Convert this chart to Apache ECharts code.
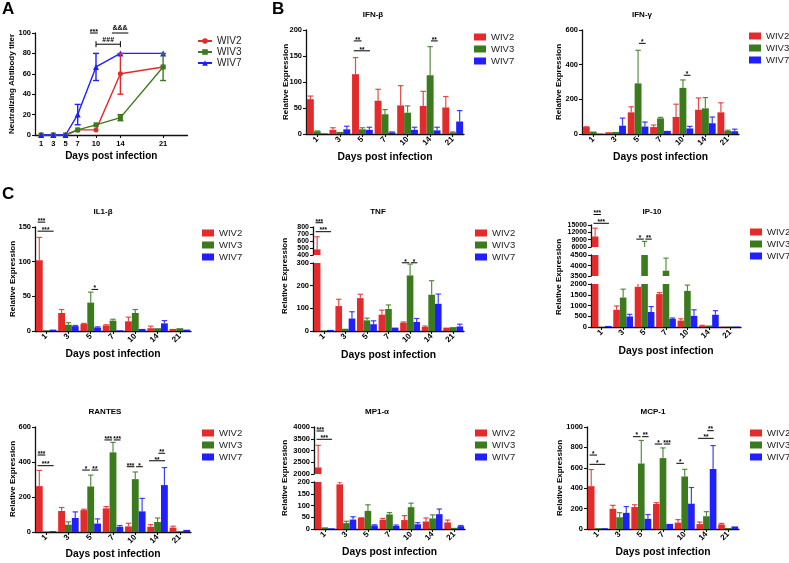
<!DOCTYPE html>
<html><head><meta charset="utf-8">
<script src="https://cdn.jsdelivr.net/npm/echarts@6/dist/echarts.min.js"></script>
<style>html,body{margin:0;padding:0;background:#fff}#c{width:789px;height:563px}</style>
</head><body><div id="c"></div>
<script>
// ---------------- DATA ----------------
const days = ['1','3','5','7','10','14','21'];
const dayNums = [1,3,5,7,10,14,21];
const groups = ['WIV2','WIV3','WIV7'];

// Panel A: neutralizing antibody titer
const nabWIV2 = [0,0,0,5,5,60,66.7];
const nabWIV2Err = [0,0,0,0,0,20,0];
const nabWIV3 = [0,0,0,5,10,17,66.7];
const nabWIV3Err = [0,0,0,0,0,3,13.3];
const nabWIV7 = [0,0,0,20,66.7,80,80];
const nabWIV7Err = [0,0,0,10,13.3,0,0];
const nabSig = [[9.0,10.3,100,'***',0],[12.6,15.3,100,'&&&',0],[10,14,89,'###',1]];

// IFN-beta
const ifnbWIV2 = [67,8,115,64,55,54,51];
const ifnbWIV2Err = [6,4,32,22,38,28,21];
const ifnbWIV3 = [5,4,9,38,41,113,3];
const ifnbWIV3Err = [1,0,3,9,13,55,1];
const ifnbWIV7 = [1,9,8,3,8,7,24];
const ifnbWIV7Err = [0,6,5,1,5,6,21];
const ifnbSig = [[0,2,0,1,179,'**'],[0,2,0,2,160,'**'],[0,5,1,2,179,'**']];

// IFN-gamma
const ifngWIV2 = [40,10,125,40,98,140,125];
const ifngWIV2Err = [2,0,32,12,74,68,55];
const ifngWIV3 = [14,12,292,90,266,148,18];
const ifngWIV3Err = [0,0,191,6,46,62,4];
const ifngWIV7 = [2,48,43,18,32,62,16];
const ifngWIV7Err = [0,44,26,0,12,36,12];
const ifngSig = [[0,2,1,2,523,'*'],[0,4,1,2,339,'*']];

// IL1-beta
const il1bWIV2 = [102,26,10,8,14,4,3];
const il1bWIV2Err = [33,5,1,1,6,3,0];
const il1bWIV3 = [1,9,41,15,26,4,4];
const il1bWIV3Err = [0,3,15,2,5,0,0];
const il1bWIV7 = [2,7,5,1,3,11,2];
const il1bWIV7Err = [0,1,1,0,0,4,0];
const il1bSig = [[0,0,0,1,157,'***'],[0,0,0,2,144,'***'],[0,2,1,2,60,'*']];

// TNF
const tnfWIV2 = [480,110,145,72,37,18,15];
const tnfWIV2Err = [180,30,17,20,3,4,0];
const tnfWIV3 = [2,10,47,97,245,160,17];
const tnfWIV3Err = [0,0,10,18,50,62,0];
const tnfWIV7 = [5,55,30,15,40,120,20];
const tnfWIV7Err = [0,30,15,0,15,43,10];
const tnfSig = [[0,0,0,1,861,'***'],[0,0,0,2,733,'***'],[1,4,0,1,301,'*'],[1,4,1,2,301,'*']];

// IP-10
const ip10WIV2 = [10300,800,1870,1530,300,60,20];
const ip10WIV2Err = [3400,180,180,70,80,20,0];
const ip10WIV3 = [10,1370,5000,3750,1680,70,20];
const ip10WIV3Err = [0,390,3300,600,270,0,0];
const ip10WIV7 = [50,490,700,380,520,570,20];
const ip10WIV7Err = [0,100,250,40,280,190,0];
const ip10Sig = [[0,0,0,1,19300,'***'],[0,0,0,2,15700,'***'],[0,2,0,1,9230,'*'],[0,2,1,2,9230,'**']];

// RANTES
const rantesWIV2 = [262,120,125,135,32,30,25];
const rantesWIV2Err = [90,20,5,10,18,12,8];
const rantesWIV3 = [3,42,260,455,302,57,5];
const rantesWIV3Err = [0,16,65,57,41,23,0];
const rantesWIV7 = [5,80,48,30,118,268,12];
const rantesWIV7Err = [0,35,27,7,74,100,0];
const rantesSig = [[0,0,0,1,440,'***'],[0,0,0,2,379,'***'],[0,2,0,1,354,'*'],[0,2,1,2,354,'**'],
  [0,3,0,1,526,'***'],[0,3,1,2,526,'***'],[0,4,0,1,373,'***'],[0,4,1,2,373,'*'],[0,5,1,2,450,'**'],[0,5,0,2,407,'**']];

// MP1-alpha
const mp1WIV2 = [2280,190,47,40,38,32,28];
const mp1WIV2Err = [940,10,1,5,19,15,10];
const mp1WIV3 = [7,25,77,62,93,45,5];
const mp1WIV3Err = [0,8,26,8,17,15,0];
const mp1WIV7 = [3,40,15,13,20,63,12];
const mp1WIV7Err = [0,12,3,4,7,22,3];
const mp1Sig = [[0,0,0,1,3830,'***'],[0,0,0,2,3477,'***']];

// MCP-1
const mcp1WIV2 = [420,198,215,245,62,48,45];
const mcp1WIV2Err = [163,34,23,13,30,20,10];
const mcp1WIV3 = [8,115,642,695,515,125,10];
const mcp1WIV3Err = [0,45,226,100,70,45,0];
const mcp1WIV7 = [8,158,100,50,248,588,25];
const mcp1WIV7Err = [0,62,42,0,159,230,0];
const mcp1Sig = [[0,0,0,1,725,'*'],[0,0,0,2,634,'*'],[0,2,0,1,905,'*'],[0,2,1,2,905,'**'],
  [0,3,0,1,833,'*'],[0,3,1,2,833,'***'],[0,4,0,1,644,'*'],[0,5,1,2,964,'**'],[0,5,0,2,889,'**']];

// ---------------- STYLE / LAYOUT ----------------
const FONT = "'Liberation Sans', Arial, sans-serif";
const COLORS = ['#e32b2b', '#3c7a1e', '#1f1fff'];
const GAP = 0.08;
const AXC = '#111';

const PANELS = [
 {title:'IFN-β', vals:[ifnbWIV2,ifnbWIV3,ifnbWIV7], errs:[ifnbWIV2Err,ifnbWIV3Err,ifnbWIV7Err], sig:ifnbSig,
  left:306, width:158, segs:[{top:30,bottom:134,min:0,max:200,interval:50}], titlePos:[373,15], legendPos:[474,31.5], yNamePos:[286,82], nameGap:18},
 {title:'IFN-γ', vals:[ifngWIV2,ifngWIV3,ifngWIV7], errs:[ifngWIV2Err,ifngWIV3Err,ifngWIV7Err], sig:ifngSig,
  left:582, width:157, segs:[{top:30,bottom:134,min:0,max:600,interval:200}], titlePos:[642,15], legendPos:[749,30.5], yNamePos:[559,82], nameGap:18},
 {title:'IL1-β', vals:[il1bWIV2,il1bWIV3,il1bWIV7], errs:[il1bWIV2Err,il1bWIV3Err,il1bWIV7Err], sig:il1bSig,
  left:35, width:156, segs:[{top:227,bottom:331,min:0,max:150,interval:50}], titlePos:[103,212], legendPos:[202,227.5], yNamePos:[13,279], nameGap:18},
 {title:'TNF', vals:[tnfWIV2,tnfWIV3,tnfWIV7], errs:[tnfWIV2Err,tnfWIV3Err,tnfWIV7Err], sig:tnfSig,
  left:313, width:151, segs:[{top:227,bottom:255,min:400,max:800,interval:100},{top:263,bottom:331,min:0,max:300,interval:100}],
  titlePos:[378,212], legendPos:[475,227.5], yNamePos:[285,276], nameGap:19},
 {title:'IP-10', vals:[ip10WIV2,ip10WIV3,ip10WIV7], errs:[ip10WIV2Err,ip10WIV3Err,ip10WIV7Err], sig:ip10Sig,
  left:591, width:150, segs:[{top:225,bottom:247,min:6000,max:15000,interval:3000},{top:255,bottom:276,min:3500,max:4500,interval:500},{top:284,bottom:327,min:0,max:2000,interval:500}],
  titlePos:[652,212], legendPos:[750,226.5], yNamePos:[559,277], nameGap:19},
 {title:'RANTES', vals:[rantesWIV2,rantesWIV3,rantesWIV7], errs:[rantesWIV2Err,rantesWIV3Err,rantesWIV7Err], sig:rantesSig,
  left:35, width:156, segs:[{top:427,bottom:532,min:0,max:600,interval:200}], titlePos:[105,412], legendPos:[202,427.5], yNamePos:[13,479], nameGap:17},
 {title:'MP1-α', vals:[mp1WIV2,mp1WIV3,mp1WIV7], errs:[mp1WIV2Err,mp1WIV3Err,mp1WIV7Err], sig:mp1Sig,
  left:314, width:151, segs:[{top:427,bottom:474,min:2000,max:4000,interval:500},{top:482,bottom:529,min:0,max:200,interval:50}],
  titlePos:[377,412], legendPos:[475,427.5], yNamePos:[285,478], nameGap:18},
 {title:'MCP-1', vals:[mcp1WIV2,mcp1WIV3,mcp1WIV7], errs:[mcp1WIV2Err,mcp1WIV3Err,mcp1WIV7Err], sig:mcp1Sig,
  left:587, width:152, segs:[{top:427,bottom:529,min:0,max:1000,interval:200}], titlePos:[653,412], legendPos:[750,427.5], yNamePos:[560,478], nameGap:18}
];

// ---------------- BUILD ----------------
const option = {animation:false, backgroundColor:'#fff', grid:[], xAxis:[], yAxis:[], series:[], legend:[], graphic:[]};
let gCount = 0;
function addGrid(g, xa, ya){
  option.grid.push(Object.assign({containLabel:false}, g));
  option.xAxis.push(Object.assign({gridIndex:gCount}, xa));
  option.yAxis.push(Object.assign({gridIndex:gCount}, ya));
  return gCount++;
}
const axisLineStyle = {show:true, lineStyle:{color:AXC, width:1.3}};
const tickLabel = {color:'#000', fontFamily:FONT, fontWeight:'bold', fontSize:7.5, formatter:v=>String(v)};

function yAxisCfg(min, max, interval, fs){
  return {type:'value', min, max, interval, axisLine:axisLineStyle,
    axisTick:{show:true, length:3, lineStyle:{color:AXC, width:1.1}},
    axisLabel:Object.assign({}, tickLabel, {margin:4, showMinLabel:true, showMaxLabel:true, hideOverlap:false, fontSize:fs||7.5}),
    splitLine:{show:false}};
}
function text(x, y, s, font, opts){
  option.graphic.push(Object.assign({type:'text', x, y, silent:true,
    style:Object.assign({text:s, font, fill:'#000', align:'center', verticalAlign:'middle'}, opts && opts.style || {})},
    opts && opts.props || {}));
}

// Panel letters
text(2, 1, 'A', 'bold 17px ' + FONT, {style:{align:'left', verticalAlign:'top'}});
text(272, 1, 'B', 'bold 17px ' + FONT, {style:{align:'left', verticalAlign:'top'}});
text(2, 186, 'C', 'bold 17px ' + FONT, {style:{align:'left', verticalAlign:'top'}});

// ---- Panel A ----
const nabSets = [[nabWIV2,nabWIV2Err,'circle'],[nabWIV3,nabWIV3Err,'rect'],[nabWIV7,nabWIV7Err,'triangle']];
const gA = addGrid({left:35, top:33, width:152.5, height:102},
  {type:'value', min:0, max:25, axisLine:axisLineStyle,
   axisTick:{show:true, length:3, customValues:dayNums, lineStyle:{color:AXC, width:1.1}},
   axisLabel:Object.assign({}, tickLabel, {margin:5, customValues:dayNums}), splitLine:{show:false},
   name:'Days post infection', nameLocation:'middle', nameGap:16,
   nameTextStyle:{fontFamily:FONT, fontWeight:'bold', fontSize:10, color:'#000'}},
  yAxisCfg(0,100,20));
nabSets.forEach((s, g) => {
  option.series.push({type:'line', name:groups[g], xAxisIndex:gA, yAxisIndex:gA,
    data:dayNums.map((d,i)=>[d, s[0][i]]), symbol:s[2], symbolSize: s[2]==='triangle'?6:5,
    itemStyle:{color:COLORS[g]}, lineStyle:{color:COLORS[g], width:1.4}, z:3});
});
nabSets.forEach((s, g) => {
  const col = COLORS[g];
  option.series.push({type:'custom', xAxisIndex:gA, yAxisIndex:gA, z:4, silent:true,
    data:dayNums.map((d,i)=>[d, s[0][i], s[1][i]]).filter(r=>r[2]>0),
    renderItem:(params, api)=>{
      const x = api.value(0), y = api.value(1), e = api.value(2);
      const lo = api.coord([x, y-e]), hi = api.coord([x, y+e]);
      const st = {stroke:col, lineWidth:1.4};
      return {type:'group', children:[
        {type:'line', shape:{x1:lo[0], y1:lo[1], x2:hi[0], y2:hi[1]}, style:st},
        {type:'line', shape:{x1:lo[0]-3, y1:lo[1], x2:lo[0]+3, y2:lo[1]}, style:st},
        {type:'line', shape:{x1:hi[0]-3, y1:hi[1], x2:hi[0]+3, y2:hi[1]}, style:st}]};
    }});
});
option.series.push({type:'custom', xAxisIndex:gA, yAxisIndex:gA, clip:false, silent:true, z:5,
  data:nabSig.map(s=>[s[0], s[2]]),
  renderItem:(params, api)=>{
    const s = nabSig[params.dataIndex];
    const p1 = api.coord([s[0], s[2]]), p2 = api.coord([s[1], s[2]]);
    const ch = [{type:'line', shape:{x1:p1[0], y1:p1[1], x2:p2[0], y2:p1[1]}, style:{stroke:'#000', lineWidth:1}}];
    if (s[4]) {
      ch.push({type:'line', shape:{x1:p1[0], y1:p1[1]-3, x2:p1[0], y2:p1[1]+3}, style:{stroke:'#000', lineWidth:1}});
      ch.push({type:'line', shape:{x1:p2[0], y1:p2[1]-3, x2:p2[0], y2:p2[1]+3}, style:{stroke:'#000', lineWidth:1}});
    }
    const ast = s[3][0] === '*';
    ch.push({type:'text', x:(p1[0]+p2[0])/2, y:p1[1]-1, style:{text:s[3], align:'center',
      verticalAlign: ast ? 'middle' : 'bottom', font:'bold 7px ' + FONT, fill:'#000'}});
    return {type:'group', children:ch};
  }});
option.legend.push({left:197, top:36, padding:0, orient:'vertical', itemWidth:14, itemHeight:7, itemGap:1,
  selectedMode:false, data:groups, textStyle:{fontFamily:FONT, fontSize:10, color:'#222', lineHeight:10}});
text(12, 84, 'Neutralizing Abtibody titer', 'bold 8px ' + FONT, {props:{rotation:Math.PI/2}});

// ---- Bar panels ----
function errRender(list){
  return (params, api) => {
    const r = list[params.dataIndex];
    const c = r[0], g = r[1];
    const bw = api.size([1,0])[0];
    const w = bw*(1-GAP)/3;
    const b = api.coord([c, r[2]]), t = api.coord([c, r[3]]);
    const x = b[0] + (g-1)*w;
    const st = {stroke:COLORS[g], lineWidth:1.2, opacity:0.85};
    return {type:'group', children:[
      {type:'line', shape:{x1:x, y1:b[1], x2:x, y2:t[1]}, style:st},
      {type:'line', shape:{x1:x-w*0.4, y1:t[1], x2:x+w*0.4, y2:t[1]}, style:st}]};
  };
}
function sigRender(list){
  return (params, api) => {
    const s = list[params.dataIndex];
    const bw = api.size([1,0])[0];
    const w = bw*(1-GAP)/3;
    const p = api.coord([s[1], s[4]]);
    const x1 = p[0] + (s[2]-1)*w + (s[2]===1 ? 0.12*w : -0.25*w);
    const x2 = p[0] + (s[3]-1)*w + (s[3]===1 ? -0.12*w : 0.1*w);
    const y = p[1];
    return {type:'group', children:[
      {type:'line', shape:{x1, y1:y, x2, y2:y}, style:{stroke:'#000', lineWidth:1}},
      {type:'text', x:(x1+x2)/2, y:y-1, style:{text:s[5], align:'center', verticalAlign:'middle',
        font:'bold 6.5px ' + FONT, fill:'#000'}}]};
  };
}

PANELS.forEach(P => {
  const n = P.segs.length;
  P.segs.forEach((S, si) => {
    const isBottom = si === n-1;
    const xa = {type:'category', data:days, show:isBottom, axisLine:axisLineStyle,
      axisTick:{show:true, length:3, alignWithLabel:true, lineStyle:{color:AXC, width:1.1}},
      axisLabel:Object.assign({}, tickLabel, {interval:0, rotate:45, margin:4, fontSize:8}), splitLine:{show:false}};
    if (isBottom) Object.assign(xa, {name:'Days post infection', nameLocation:'middle', nameGap:P.nameGap,
      nameTextStyle:{fontFamily:FONT, fontWeight:'bold', fontSize:10.3, color:'#000'}});
    const crowded = (S.bottom - S.top) / ((S.max - S.min) / S.interval) < 8;
    const gi = addGrid({left:P.left, width:P.width, top:S.top, height:S.bottom-S.top}, xa,
      yAxisCfg(S.min, S.max, S.interval, crowded ? 7 : 7.5));
    groups.forEach((name, g) => {
      option.series.push({type:'bar', name, xAxisIndex:gi, yAxisIndex:gi, data:P.vals[g],
        barGap:'0%', barCategoryGap:(GAP*100)+'%', clip:true, silent:true,
        itemStyle:{color:COLORS[g]}});
    });
    const errList = [];
    P.vals.forEach((arr, g) => arr.forEach((v, c) => { if (P.errs[g][c] > 0) errList.push([c, g, v, v + P.errs[g][c]]); }));
    option.series.push({type:'custom', xAxisIndex:gi, yAxisIndex:gi, clip:true, silent:true, z:3,
      data:errList.map(r=>[r[0], r[3]]), renderItem:errRender(errList)});
    const sigList = P.sig.filter(s => s[0] === si);
    if (sigList.length) option.series.push({type:'custom', xAxisIndex:gi, yAxisIndex:gi, clip:false, silent:true, z:5,
      data:sigList.map(s=>[s[1], s[4]]), renderItem:sigRender(sigList)});
  });
  option.legend.push({left:P.legendPos[0], top:P.legendPos[1], padding:0, orient:'vertical', itemWidth:12, itemHeight:7, itemGap:1,
    selectedMode:false, data:groups.map(nm=>({name:nm, icon:'rect'})),
    textStyle:{fontFamily:FONT, fontSize:9.5, color:'#222', lineHeight:11}});
  text(P.titlePos[0], P.titlePos[1], P.title, 'bold 8px ' + FONT);
  text(P.yNamePos[0], P.yNamePos[1], 'Relative Expression', 'bold 8px ' + FONT, {props:{rotation:Math.PI/2}});
});

const chart = echarts.init(document.getElementById('c'), null, {renderer:'canvas'});
chart.setOption(option);
</script></body></html>
